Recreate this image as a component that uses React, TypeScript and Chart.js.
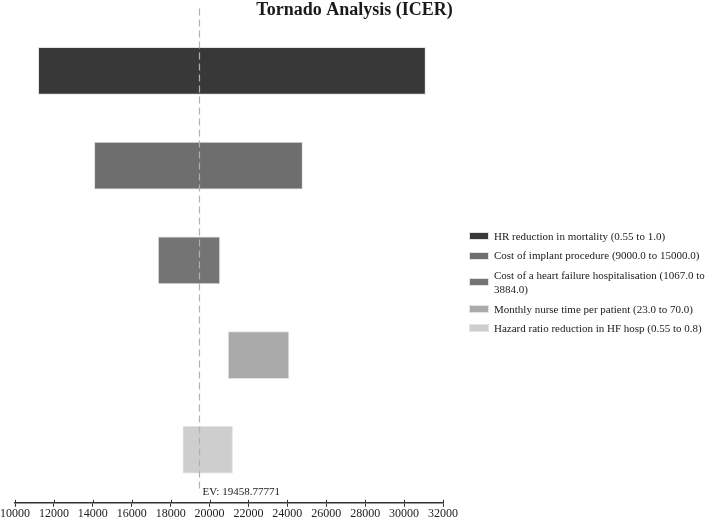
import React, { useEffect, useRef } from 'react';
import { Chart, registerables } from 'chart.js';

Chart.register(...registerables);

const chartTitle = 'Tornado Analysis (ICER)';
const parameterLabels = [
  'HR reduction in mortality (0.55 to 1.0)',
  'Cost of implant procedure (9000.0 to 15000.0)',
  'Cost of a heart failure hospitalisation (1067.0 to\n3884.0)',
  'Monthly nurse time per patient (23.0 to 70.0)',
  'Hazard ratio reduction in HF hosp (0.55 to 0.8)',
];
const lowValues = [11200, 14080, 17360, 20960, 18630];
const highValues = [31100, 24780, 20530, 24080, 21180];
const barColors = ['#383838', '#6e6e6e', '#747474', '#aaaaaa', '#cecece'];
const evValue = 19458.77771;
const evLabel = 'EV: 19458.77771';
const xMin = 10000;
const xMax = 32000;
const xStep = 2000;

const FONT = '"Liberation Serif", "Times New Roman", serif';

export default function App() {
  const ref = useRef<HTMLCanvasElement>(null);

  useEffect(() => {
    if (!ref.current) return;
    const evPlugin = {
      id: 'evLine',
      afterDatasetsDraw(chart: any) {
        const { ctx, chartArea, scales } = chart;
        const xs = scales.x;
        const x = Math.round(xs.getPixelForValue(evValue)) + 0.5;
        ctx.save();
        ctx.strokeStyle = '#b0b0b0';
        ctx.lineWidth = 1.2;
        ctx.setLineDash([7, 4]);
        ctx.beginPath();
        ctx.moveTo(x, chartArea.top - 15);
        ctx.lineTo(x, chartArea.bottom - 10);
        ctx.stroke();
        ctx.setLineDash([]);
        ctx.fillStyle = '#1a1a1a';
        ctx.font = '11px ' + FONT;
        ctx.textAlign = 'left';
        ctx.textBaseline = 'alphabetic';
        ctx.fillText(evLabel, x + 3, chartArea.bottom - 8);
        ctx.strokeStyle = '#333';
        ctx.lineWidth = 1;
        xs.ticks.forEach((t: any) => {
          const px = Math.round(xs.getPixelForValue(t.value)) + 0.5;
          ctx.beginPath();
          ctx.moveTo(px, chartArea.bottom - 3);
          ctx.lineTo(px, chartArea.bottom);
          ctx.stroke();
        });
        ctx.restore();
      },
    };

    const datasets = parameterLabels.map((label, i) => ({
      label,
      data: [{ x: [lowValues[i], highValues[i]], y: i }],
      backgroundColor: barColors[i],
      borderColor: '#e2e2e2',
      borderWidth: 1,
      borderSkipped: false,
      grouped: false,
      barThickness: 47,
    }));

    const chart = new Chart(ref.current, {
      type: 'bar',
      data: { datasets: datasets as any },
      options: {
        animation: false,
        responsive: false,
        indexAxis: 'y',
        layout: { padding: 0 },
        scales: {
          x: {
            type: 'linear',
            position: 'bottom',
            min: xMin,
            max: xMax,
            ticks: {
              stepSize: xStep,
              color: '#222',
              font: { family: FONT, size: 12, lineHeight: 1.1 },
              padding: 0,
              maxRotation: 0,
              autoSkip: false,
              callback: (v: any) => String(v),
            },
            grid: { drawOnChartArea: false, drawTicks: true, tickLength: 4, color: '#333', lineWidth: 1 },
            border: { display: true, color: '#333', width: 1.5 },
          },
          y: {
            type: 'linear',
            min: -0.5,
            max: 4.56,
            reverse: true,
            offset: false,
            grid: { offset: false },
            display: false,
          },
          yRight: {
            type: 'linear',
            axis: 'y',
            position: 'right',
            display: true,
            grid: { display: false },
            border: { display: false },
            ticks: { display: false },
            afterFit: (s: any) => {
              s.width = 266;
            },
          },
        } as any,
        plugins: {
          title: {
            display: true,
            text: chartTitle,
            color: '#1a1a1a',
            font: { family: FONT, size: 18, weight: 'bold' },
            padding: { top: 0, bottom: 2 },
          },
          legend: { display: false },
          tooltip: { enabled: false },
        },
      },
      plugins: [evPlugin],
    });
    return () => chart.destroy();
  }, []);

  return (
    <div style={{ position: 'absolute', left: 0, top: 0, width: 709, height: 520, background: '#fff' }}>
      <canvas ref={ref} width={709} height={520} style={{ display: 'block', width: 709, height: 520 }} />
      <div
        style={{
          position: 'absolute',
          left: 469,
          top: 229,
          fontFamily: FONT,
          fontSize: 11,
          color: '#1a1a1a',
        }}
      >
        {parameterLabels.map((label, i) => (
          <div key={i} style={{ display: 'flex', alignItems: 'center', marginBottom: 4.6 }}>
            <div
              style={{
                width: 20,
                height: 8,
                background: barColors[i],
                border: '1px solid #e2e2e2',
                boxSizing: 'border-box',
                marginRight: 5,
                flexShrink: 0,
              }}
            />
            <div style={{ whiteSpace: 'pre', lineHeight: '14.7px' }}>{label}</div>
          </div>
        ))}
      </div>
    </div>
  );
}
